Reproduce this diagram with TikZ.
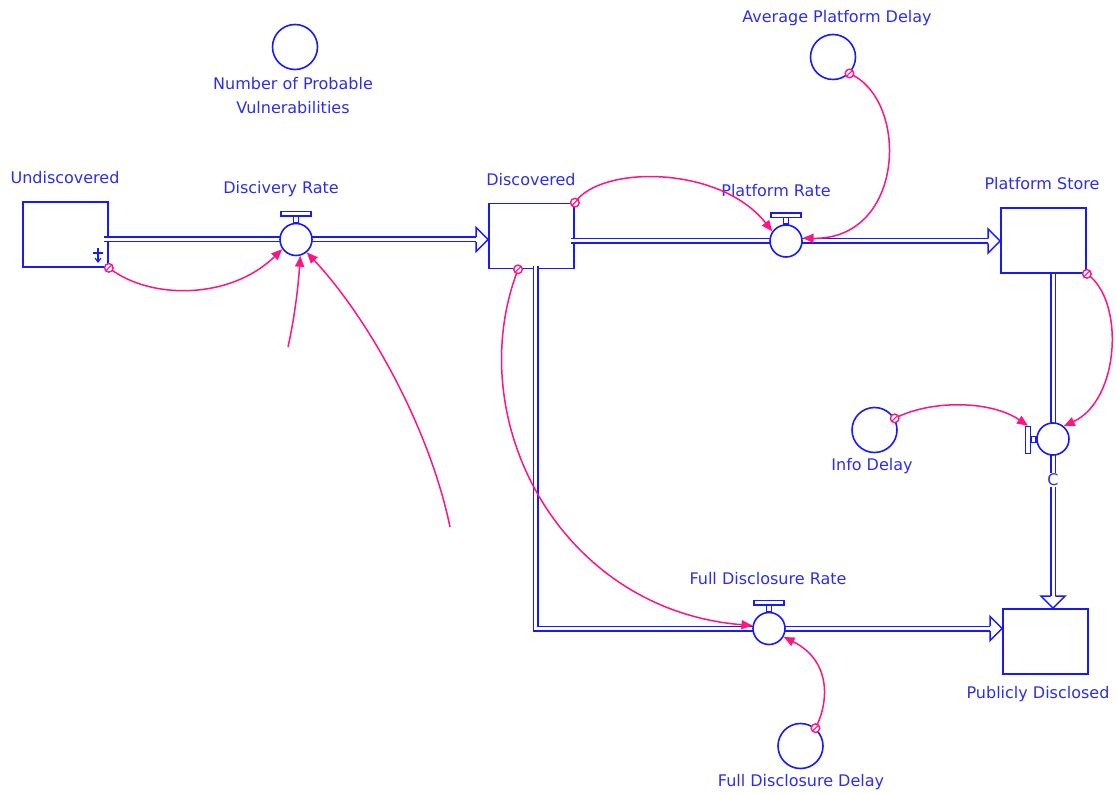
\documentclass[tikz,border=0pt]{standalone}
\usepackage{fontspec}
\setmainfont{DejaVu Sans}
\usetikzlibrary{arrows.meta}
\definecolor{flowblue}{RGB}{25,25,255}
\definecolor{labelblue}{RGB}{45,45,235}
\definecolor{linkpink}{RGB}{255,20,130}
\tikzset{
  pipeedge/.style={draw=flowblue,line width=1.5pt},
  % hollow flow arrowheads (tip at the pic origin)
  headright/.pic={\draw[pipeedge,fill=white] (-12,-2.3) -- (-12,-12) -- (0,0) -- (-12,12) -- (-12,2.3);},
  headdown/.pic={\draw[pipeedge,fill=white] (-2.3,-12) -- (-12,-12) -- (0,0) -- (12,-12) -- (2.3,-12);},
  % handle on top of a valve
  valvetop/.pic={\draw[pipeedge,fill=white] (-2.5,0) rectangle (2.5,-6.5);
                 \draw[pipeedge,fill=white] (-15,-6.5) rectangle (15,-11);},
  % small ring marking where an information link starts
  linkstart/.pic={\draw[draw=linkpink,line width=1.4pt,fill=white] (0,0) circle (4.3pt);
                  \draw[draw=linkpink,line width=1.1pt] (-2.8,2.8) -- (2.8,-2.8);}
}
\begin{document}
\begin{tikzpicture}[x=1pt,y=-1pt,
  font=\fontsize{16}{24}\selectfont,
  stock/.style={draw=flowblue,line width=1.7pt,rectangle,minimum width=85pt,minimum height=65pt,inner sep=0pt},
  aux/.style={draw=flowblue,line width=1.6pt,circle,minimum size=45pt,inner sep=0pt},
  valve/.style={draw=flowblue,line width=1.6pt,circle,fill=white,minimum size=32pt,inner sep=0pt},
  valvebar/.style={draw=flowblue,line width=1.5pt,fill=white,rectangle,minimum width=5pt,minimum height=27pt,inner sep=0pt},
  lbl/.style={text=labelblue,inner sep=1pt},
  pipe/.style={draw=flowblue,line width=1.5pt,double=white,double distance=3pt},
  link/.style={draw=linkpink,line width=1.5pt,-{Triangle[length=11pt,width=9pt]}}
]
\useasboundingbox (0,0) rectangle (1116,794);

% stocks
\node[stock] (undisc) at (65.5,234.5) {};
\node[stock] (disc)   at (531.5,236) {};
\node[stock] (pstore) at (1043.5,240.5) {};
\node[stock] (pubd)   at (1045.5,641.5) {};

% auxiliaries
\node[aux] (npv)  at (295,47) {};
\node[aux] (avg)  at (833,57) {};
\node[aux] (info) at (874.5,430) {};
\node[aux] (fdd)  at (800.5,746) {};

% valve positions (needed for the pipes)
\coordinate (drc)  at (296,239.5);
\coordinate (prc)  at (786,241);
\coordinate (fdrc) at (769,628.5);
\coordinate (cc)   at (1053,439);
\coordinate (dbot) at (535.5,266);

% pipes
\draw[pipe,shorten <=-5pt,shorten >=12pt] (drc -| undisc.east) -- (drc -| disc.west);
\pic at (drc -| disc.west) {headright};
\draw[pipe,shorten <=-4pt,shorten >=12pt] (prc -| disc.east) -- (prc -| pstore.west);
\pic at (prc -| pstore.west) {headright};
\draw[pipe,shorten >=12pt] (cc |- pstore.south) -- (cc |- pubd.north);
\pic at (cc |- pubd.north) {headdown};
\draw[pipe,shorten >=12pt] (dbot) |- (fdrc -| pubd.west);
\pic at (fdrc -| pubd.west) {headright};

% valves
\node[valve] (dr)  at (drc) {};
\node[valve] (pr)  at (prc) {};
\node[valve] (fdr) at (fdrc) {};
\node[valve] (c)   at (cc) {};
\pic at (dr.north) {valvetop};
\pic at (pr.north) {valvetop};
\pic at (fdr.north) {valvetop};
\node[valvebar] (cbar) at (1028,440) {};
\draw[pipeedge,fill=white] ([yshift=2.5pt]c.west) rectangle ([yshift=-2.5pt]cbar.east);

% source marker on the undiscovered stock
\draw[draw=flowblue,line width=1.1pt] (93,253) -- (103,253);
\draw[draw=flowblue,line width=1.1pt] (98,248) -- (98,262);
\draw[draw=flowblue,line width=1.1pt] (95,258) -- (98,262) -- (101,258);

% labels
\node[lbl] (tUndisc) at (65,178) {Undiscovered};
\node[lbl] (tDR)     at (281,189) {Discivery Rate};
\node[lbl] (tDisc)   at (531,180) {Discovered};
\node[lbl] (tPR)     at (776,191) {Platform Rate};
\node[lbl] (tPS)     at (1042,184) {Platform Store};
\node[lbl] (tAPD)    at (837,18) {Average Platform Delay};
\node[lbl,align=center] (tNPV) at (293,96) {Number of Probable\\Vulnerabilities};
\node[lbl] (tInfo)   at (872,466) {Info Delay};
\node[lbl,fill=white] (tC) at (1053,480) {C};
\node[lbl] (tFDR)    at (768,579) {Full Disclosure Rate};
\node[lbl] (tPub)    at (1038,694) {Publicly Disclosed};
\node[lbl] (tFDD)    at (801,782) {Full Disclosure Delay};

% information links
\coordinate (f1) at (288,347);
\coordinate (f2) at (450,527);
\draw[link] (undisc.south east) .. controls (150,300) and (230,300) .. (dr.215);
\draw[link] (f1) .. controls (294,320) and (298,290) .. (dr.-75);
\draw[link] (f2) .. controls (430,430) and (370,320) .. (dr.-50);
\draw[link] (disc.north east) .. controls (600,165) and (720,165) .. (pr.145);
\draw[link] (avg.-45) .. controls (910,100) and (905,240) .. (pr.10);
\draw[link] (disc.-112) .. controls (460,420) and (560,610) .. (fdr.170);
\draw[link] (pstore.south east) .. controls (1125,300) and (1120,400) .. (c.50);
\draw[link] (info.30) .. controls (930,400) and (990,400) .. (cbar.north);
\draw[link] (fdd.50) .. controls (830,700) and (830,660) .. (fdr.-30);

% link origins
\pic at (undisc.south east) {linkstart};
\pic at (disc.north east) {linkstart};
\pic at (avg.-45) {linkstart};
\pic at (disc.-112) {linkstart};
\pic at (pstore.south east) {linkstart};
\pic at (info.30) {linkstart};
\pic at (fdd.50) {linkstart};
\end{tikzpicture}
\end{document}
